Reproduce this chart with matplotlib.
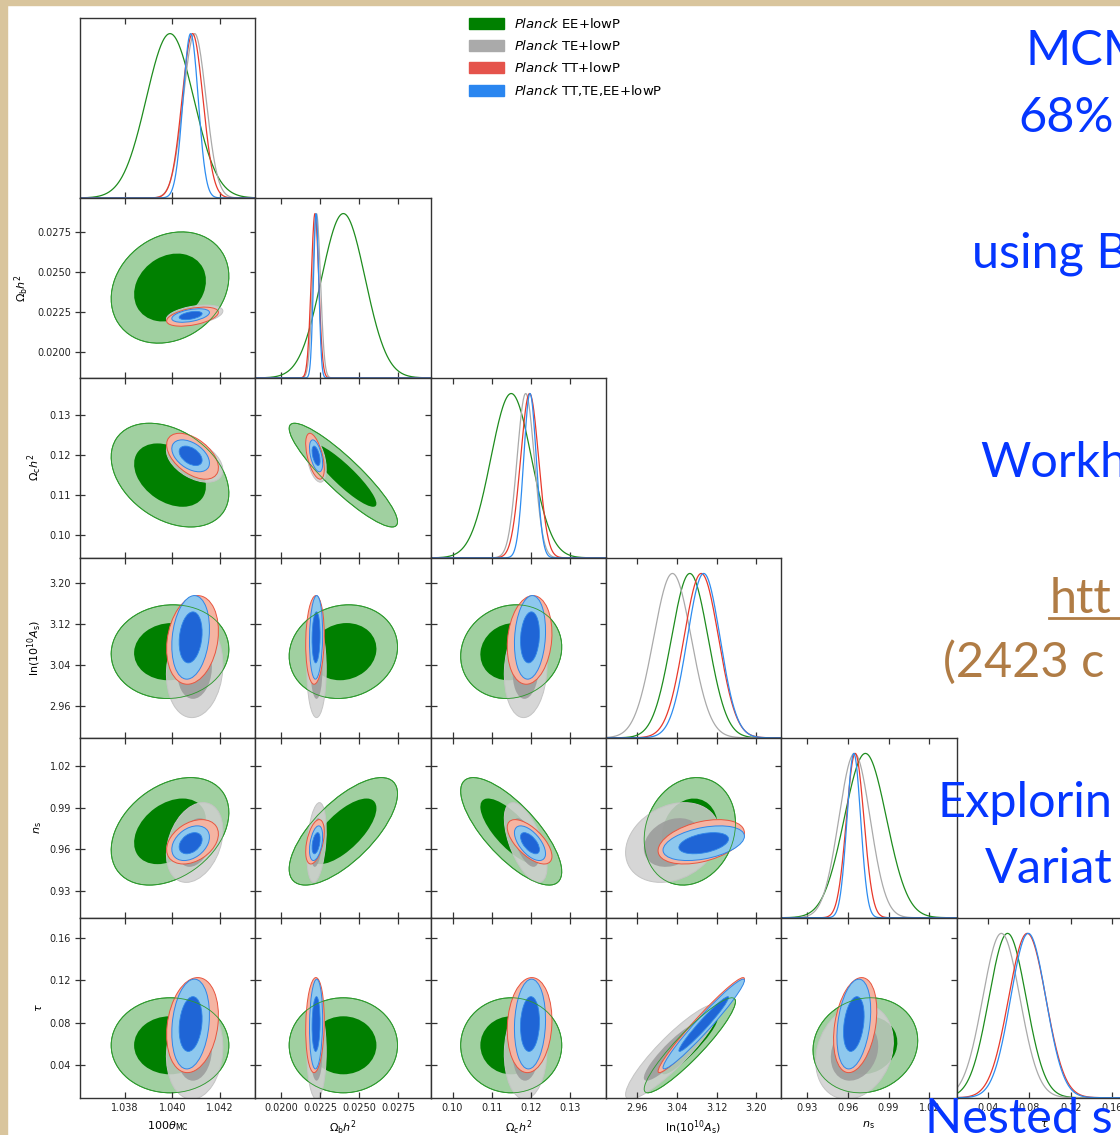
import numpy as np
import matplotlib
matplotlib.use('Agg')
import matplotlib.pyplot as plt
from matplotlib.patches import Ellipse, Patch, Rectangle
from matplotlib.lines import Line2D

# parameters: labels, plot ranges and ticks
param_labels = [r'$100\theta_{\rm MC}$', r'$\Omega_{\rm b} h^2$', r'$\Omega_{\rm c} h^2$',
                r'$\ln(10^{10} A_{\rm s})$', r'$n_{\rm s}$', r'$\tau$']
param_lims = [(1.0361, 1.0435), (0.01835, 0.0296), (0.0944, 0.1392),
              (2.897, 3.250), (0.9111, 1.0400), (0.0097, 0.1790)]
param_ticks = [[1.038, 1.040, 1.042],
               [0.0200, 0.0225, 0.0250, 0.0275],
               [0.10, 0.11, 0.12, 0.13],
               [2.96, 3.04, 3.12, 3.20],
               [0.93, 0.96, 0.99, 1.02],
               [0.04, 0.08, 0.12, 0.16]]
param_ticklabels = [['1.038', '1.040', '1.042'],
                    ['0.0200', '0.0225', '0.0250', '0.0275'],
                    ['0.10', '0.11', '0.12', '0.13'],
                    ['2.96', '3.04', '3.12', '3.20'],
                    ['0.93', '0.96', '0.99', '1.02'],
                    ['0.04', '0.08', '0.12', '0.16']]

# datasets (drawn in this order)
names = ['EE+lowP', 'TE+lowP', 'TT+lowP', 'TT,TE,EE+lowP']

# means: theta, ombh2, omch2, logA, ns, tau
mean_ee = [1.03990, 0.02400, 0.1150, 3.066, 0.9730, 0.059]
mean_te = [1.04094, 0.02228, 0.1187, 3.031, 0.9650, 0.053]
mean_tt = [1.04085, 0.02218, 0.1197, 3.089, 0.9655, 0.078]
mean_all = [1.04077, 0.02225, 0.1198, 3.094, 0.9645, 0.079]

sig_ee = [0.00100, 0.00140, 0.0052, 0.037, 0.0155, 0.018]
sig_te = [0.00048, 0.00025, 0.0022, 0.038, 0.0115, 0.018]
sig_tt = [0.00044, 0.00024, 0.0023, 0.035, 0.0064, 0.018]
sig_all = [0.00032, 0.00017, 0.0016, 0.033, 0.0050, 0.017]

# correlations, pair order (0,1) (0,2) (0,3) (0,4) (0,5) (1,2) (1,3) (1,4) (1,5) (2,3) (2,4) (2,5) (3,4) (3,5) (4,5)
corr_ee = [0.20, -0.35, 0.05, 0.35, 0.00, -0.90, 0.10, 0.70, 0.00, 0.10, -0.75, 0.00, 0.15, 0.92, 0.10]
corr_te = [0.40, -0.45, 0.10, 0.30, 0.10, -0.40, 0.00, 0.30, 0.00, 0.10, -0.60, 0.05, 0.25, 0.90, 0.20]
corr_tt = [0.45, -0.50, 0.20, 0.35, 0.20, -0.55, 0.10, 0.45, 0.10, 0.15, -0.65, 0.10, 0.40, 0.97, 0.30]
corr_all = [0.45, -0.45, 0.20, 0.35, 0.20, -0.50, 0.10, 0.40, 0.10, 0.15, -0.60, 0.10, 0.40, 0.97, 0.30]

means = [mean_ee, mean_te, mean_tt, mean_all]
sigmas = [sig_ee, sig_te, sig_tt, sig_all]
corrs = [corr_ee, corr_te, corr_tt, corr_all]

fill_out = ['#a0d0a0', '#cfcfcf', '#f5b4a2', '#8ec8ee']
fill_in = ['#008000', '#9a9a9a', '#f5b4a2', '#1f65d6']
edge_col = ['#2e9a2e', '#c4c4c4', '#e8553f', '#2f86e8']
fill_alpha = [1.0, 0.85, 1.0, 1.0]
line_col = ['#1e8c1e', '#aaaaaa', '#e8392b', '#2d8cf0']
legend_col = ['#008000', '#aaaaaa', '#e5534b', '#2a86f0']

pairs = [(a, b) for a in range(6) for b in range(a + 1, 6)]

W, H = 1120, 1135
x0, pw = 80.0, 175.3
y0, ph = 18.0, 179.95
k68, k95 = np.sqrt(2.30), np.sqrt(6.17)

fig = plt.figure(figsize=(W / 100, H / 100), dpi=100)
fig.patch.set_facecolor('white')
fig.patches.append(Rectangle((0, 0), 7 / W, 1, transform=fig.transFigure,
                             color='#d9c59d', zorder=-5))
fig.patches.append(Rectangle((0, 1 - 5 / H), 1, 5 / H, transform=fig.transFigure,
                             color='#d9c59d', zorder=-5))


def cov_ellipse(ax, mx, my, sx, sy, r, k, **kw):
    cov = np.array([[sx * sx, r * sx * sy], [r * sx * sy, sy * sy]])
    vals, vecs = np.linalg.eigh(cov)
    ang = np.degrees(np.arctan2(vecs[1, 1], vecs[0, 1]))
    e = Ellipse((mx, my), 2 * k * np.sqrt(vals[1]), 2 * k * np.sqrt(vals[0]),
                angle=ang, **kw)
    ax.add_patch(e)


for i in range(6):
    for j in range(i + 1):
        left = (x0 + j * pw) / W
        bottom = 1 - (y0 + (i + 1) * ph) / H
        ax = fig.add_axes([left, bottom, pw / W, ph / H])
        ax.set_xlim(param_lims[j])
        ax.set_xticks(param_ticks[j])
        ax.set_xticklabels(param_ticklabels[j])
        if i == j:
            lo, hi = param_lims[i]
            xs = np.linspace(lo, hi, 400)
            for d in range(4):
                ys = np.exp(-0.5 * ((xs - means[d][i]) / sigmas[d][i]) ** 2)
                ax.plot(xs, ys, color=line_col[d], lw=0.9)
            ax.set_ylim(0, 1.095)
            ax.set_yticks([])
        else:
            ax.set_ylim(param_lims[i])
            ax.set_yticks(param_ticks[i])
            ax.set_yticklabels(param_ticklabels[i])
            p = pairs.index((j, i))
            for d in range(4):
                mx, my = means[d][j], means[d][i]
                sx, sy = sigmas[d][j], sigmas[d][i]
                r = corrs[d][p]
                cov_ellipse(ax, mx, my, sx, sy, r, k95, facecolor=fill_out[d],
                            edgecolor='none', alpha=fill_alpha[d])
                cov_ellipse(ax, mx, my, sx, sy, r, k68, facecolor=fill_in[d],
                            edgecolor='none', alpha=fill_alpha[d])
                cov_ellipse(ax, mx, my, sx, sy, r, k95, fill=False,
                            edgecolor=edge_col[d], lw=0.7)
                if d == 3:
                    cov_ellipse(ax, mx, my, sx, sy, r, k68, fill=False,
                                edgecolor=edge_col[d], lw=0.6)
            # EE outline shows through the other contours
            cov_ellipse(ax, means[0][j], means[0][i], sigmas[0][j], sigmas[0][i],
                        corrs[0][p], k95, fill=False, edgecolor=edge_col[0], lw=0.6)
        for s in ax.spines.values():
            s.set_color('#333333')
            s.set_linewidth(1.0)
        ax.tick_params(axis='both', direction='in', top=True, right=True,
                       length=4.5, width=0.9, color='#333333',
                       labelsize=7, labelcolor='#222222')
        ax.tick_params(axis='x', pad=4)
        ax.tick_params(axis='y', pad=3)
        if i == j:
            ax.tick_params(axis='y', left=False, right=False)
        if i < 5:
            ax.tick_params(labelbottom=False)
        else:
            ax.set_xlabel(param_labels[j], fontsize=8, labelpad=4)
        if j > 0 or i == 0:
            ax.tick_params(labelleft=False)
        else:
            ax.tick_params(axis='y', direction='inout', length=7)
            ax.set_ylabel(param_labels[i], fontsize=8, labelpad=4)

# legend
handles = [Patch(facecolor=c, edgecolor=c) for c in legend_col]
labels = [r'$\mathit{Planck}$ ' + n for n in names]
fig.legend(handles, labels, loc='upper left', bbox_to_anchor=(464 / W, 1 - 12 / H),
           frameon=False, fontsize=9.5, handlelength=2.6, handleheight=0.9,
           handletextpad=0.8, labelspacing=0.6, borderaxespad=0)

# slide text on the right (cut off by the picture edge)
blue = '#0536ff'
brown = '#b07c45'
slide_text = [('MCM', 1025, 65, blue), ('68%', 1018, 132, blue),
              ('using B', 972, 268, blue), ('Workh', 980, 477, blue),
              ('htt', 1050, 613, brown), ('(2423 c', 943, 677, brown),
              ('Explorin', 938, 817, blue), ('Variat', 985, 883, blue),
              ('Nested s', 925, 1133, blue)]
for txt, tx, ty, col in slide_text:
    fig.text(tx / W, 1 - ty / H, txt, fontsize=35, color=col, family='Lato',
             ha='left', va='baseline', zorder=10)
fig.lines.append(Line2D([1049 / W, 1.0], [1 - 618 / H, 1 - 618 / H],
                        transform=fig.transFigure, color=brown, lw=2))

fig.savefig('out.png', dpi=100)
